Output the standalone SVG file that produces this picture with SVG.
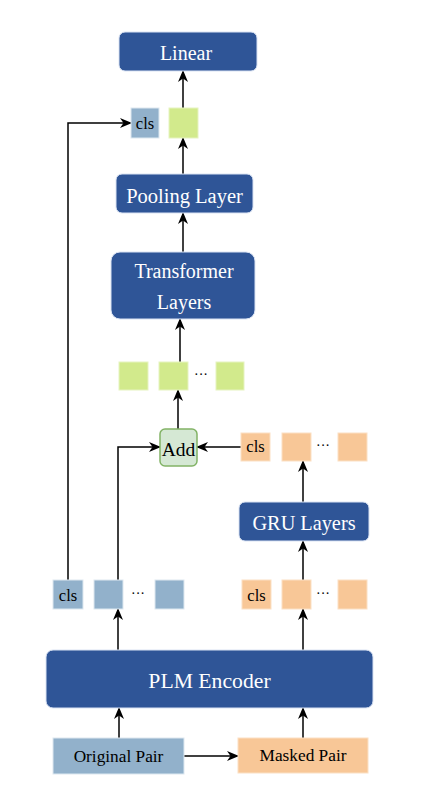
<svg xmlns="http://www.w3.org/2000/svg" width="428" height="806" viewBox="0 0 428 806">
<style>
.box{fill:#2f5597;stroke:#dae3f3;stroke-width:1}
.bt{fill:#ffffff;font-family:"Liberation Serif","Times New Roman",serif;text-anchor:middle}
.blu{fill:#92b1cb;stroke:#dde8f0;stroke-width:1}
.grn{fill:#d2ea8c;stroke:#e6f3c0;stroke-width:1}
.org{fill:#f8c797;stroke:#fbe0c4;stroke-width:1}
.t{fill:#000000;font-family:"Liberation Serif","Times New Roman",serif;text-anchor:middle}
.ln{stroke:#000;stroke-width:1.5;fill:none}
</style>
<defs>
<marker id="ah" viewBox="0 0 12 10" refX="11" refY="5" markerWidth="12" markerHeight="10" markerUnits="userSpaceOnUse" orient="auto">
<path d="M0,0 L12,5 L0,10 L3.5,5 Z" fill="#000"/>
</marker>
</defs>
<rect width="428" height="806" fill="#ffffff"/>

<g id="connectors">
<line class="ln" x1="183" y1="108" x2="183" y2="71" marker-end="url(#ah)"/>
<line class="ln" x1="183" y1="174" x2="183" y2="138" marker-end="url(#ah)"/>
<line class="ln" x1="183" y1="252" x2="183" y2="213" marker-end="url(#ah)"/>
<line class="ln" x1="180" y1="362" x2="180" y2="319" marker-end="url(#ah)"/>
<line class="ln" x1="178" y1="429" x2="178" y2="390" marker-end="url(#ah)"/>
<polyline class="ln" points="68,580 68,123 131,123" marker-end="url(#ah)"/>
<polyline class="ln" points="118,580 118,447 160,447" marker-end="url(#ah)"/>
<line class="ln" x1="241" y1="447" x2="197" y2="447" marker-end="url(#ah)"/>
<line class="ln" x1="303" y1="502" x2="303" y2="461" marker-end="url(#ah)"/>
<line class="ln" x1="303" y1="580" x2="303" y2="541" marker-end="url(#ah)"/>
<line class="ln" x1="118" y1="650" x2="118" y2="609" marker-end="url(#ah)"/>
<line class="ln" x1="303" y1="650" x2="303" y2="609" marker-end="url(#ah)"/>
<line class="ln" x1="119" y1="738" x2="119" y2="708" marker-end="url(#ah)"/>
<line class="ln" x1="303" y1="738" x2="303" y2="708" marker-end="url(#ah)"/>
<line class="ln" x1="184" y1="756" x2="238" y2="756" marker-end="url(#ah)"/>
</g>

<g id="linear"><rect class="box" x="119" y="32" width="138" height="39" rx="6"/><text class="bt" x="186" y="60" font-size="20">Linear</text></g>
<g id="cls-top"><rect class="blu" x="131" y="108" width="28" height="30"/><text class="t" x="145" y="129" font-size="16.5">cls</text></g>
<g id="pool-out"><rect class="grn" x="169" y="108" width="29" height="30"/></g>
<g id="pooling"><rect class="box" x="116" y="174" width="137" height="39" rx="6"/><text class="bt" x="184.5" y="203" font-size="20.5">Pooling Layer</text></g>
<g id="transformer"><rect class="box" x="111" y="252" width="144" height="67" rx="9"/><text class="bt" x="184" y="278" font-size="20">Transformer</text><text class="bt" x="184" y="309" font-size="20">Layers</text></g>

<g id="green-row">
<rect class="grn" x="119" y="362" width="29" height="28"/>
<rect class="grn" x="159" y="362" width="29" height="28"/>
<text class="t" x="201" y="379" font-size="14">···</text>
<rect class="grn" x="216" y="362" width="28" height="28"/>
</g>

<g id="add"><rect x="160" y="429" width="37" height="37" rx="5" fill="#d5e8d4" stroke="#82b366" stroke-width="1.5"/><text class="t" x="178.5" y="456" font-size="19.5">Add</text></g>

<g id="orange-top">
<rect class="org" x="241" y="433" width="29" height="28"/><text class="t" x="255.5" y="452" font-size="16.5">cls</text>
<rect class="org" x="282" y="433" width="29" height="28"/>
<text class="t" x="323" y="450" font-size="14">···</text>
<rect class="org" x="338" y="433" width="29" height="28"/>
</g>

<g id="gru"><rect class="box" x="239" y="502" width="130" height="39" rx="6"/><text class="bt" x="304" y="530" font-size="20.3">GRU Layers</text></g>

<g id="blue-row">
<rect class="blu" x="53" y="580" width="30" height="29"/><text class="t" x="68" y="601" font-size="16.5">cls</text>
<rect class="blu" x="94" y="580" width="29" height="29"/>
<text class="t" x="138" y="598" font-size="14">···</text>
<rect class="blu" x="155" y="580" width="29" height="29"/>
</g>

<g id="orange-bottom">
<rect class="org" x="242" y="580" width="29" height="29"/><text class="t" x="256.5" y="601" font-size="16.5">cls</text>
<rect class="org" x="282" y="580" width="29" height="29"/>
<text class="t" x="323" y="598" font-size="14">···</text>
<rect class="org" x="338" y="580" width="29" height="29"/>
</g>

<g id="plm"><rect class="box" x="46" y="650" width="327" height="58" rx="7"/><text class="bt" x="209.5" y="688" font-size="21.7">PLM Encoder</text></g>

<g id="original"><rect class="blu" x="53" y="738" width="131" height="36"/><text class="t" x="118.5" y="762" font-size="17.3">Original Pair</text></g>
<g id="masked"><rect class="org" x="238" y="738" width="130" height="35"/><text class="t" x="303" y="761" font-size="17.3">Masked Pair</text></g>
</svg>
